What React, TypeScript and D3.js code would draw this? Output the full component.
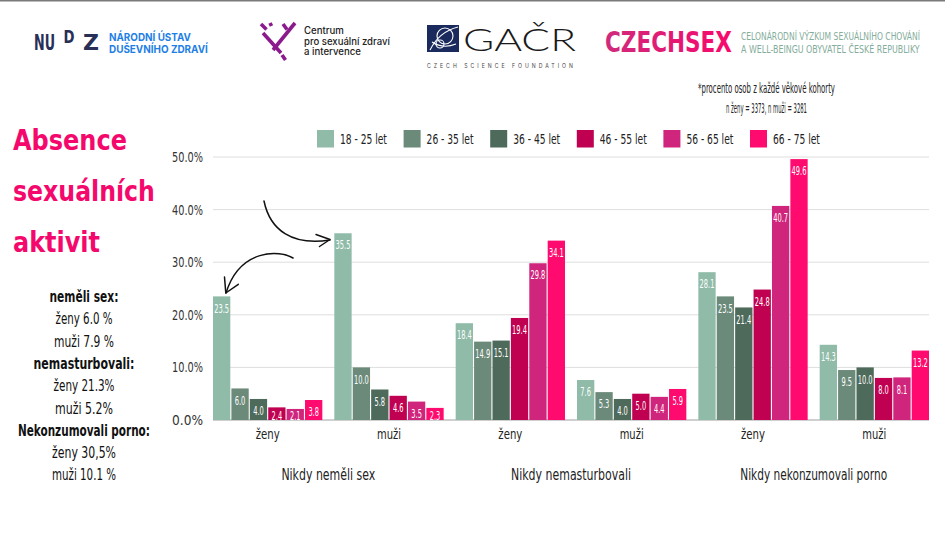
import React, { useLayoutEffect, useRef, useState } from "react";
import * as d3 from "d3";

const categories = ["ženy", "muži", "ženy", "muži", "ženy", "muži"];
const groupLabels = ["Nikdy neměli sex", "Nikdy nemasturbovali", "Nikdy nekonzumovali porno"];
const ageGroups = ["18 - 25 let", "26 - 35 let", "36 - 45 let", "46 - 55 let", "56 - 65 let", "66 - 75 let"];
const age18_25 = [23.5, 35.5, 18.4, 7.6, 28.1, 14.3];
const age26_35 = [6.0, 10.0, 14.9, 5.3, 23.5, 9.5];
const age36_45 = [4.0, 5.8, 15.1, 4.0, 21.4, 10.0];
const age46_55 = [2.4, 4.6, 19.4, 5.0, 24.8, 8.0];
const age56_65 = [2.1, 3.5, 29.8, 4.4, 40.7, 8.1];
const age66_75 = [3.8, 2.3, 34.1, 5.9, 49.6, 13.2];
const seriesValues = [age18_25, age26_35, age36_45, age46_55, age56_65, age66_75];
const colors = ["#8fbba8", "#6b8a7a", "#4e6a5b", "#c00050", "#d0257c", "#ff0a6e"];
const yTicks = [0, 10, 20, 30, 40, 50];

const sideStats = [
  { t: "neměli sex:", b: true, w: 69 },
  { t: "ženy 6.0 %", b: false, w: 57 },
  { t: "muži 7.9 %", b: false, w: 60 },
  { t: "nemasturbovali:", b: true, w: 101 },
  { t: "ženy 21.3%", b: false, w: 61 },
  { t: "muži 5.2%", b: false, w: 58 },
  { t: "Nekonzumovali porno:", b: true, w: 132 },
  { t: "ženy 30,5%", b: false, w: 64 },
  { t: "muži 10.1 %", b: false, w: 64 },
];

const COND = "'Liberation Sans Narrow','Arial Narrow','DejaVu Sans Condensed','Roboto Condensed',sans-serif";
const SANS = "'Inter','Roboto','Open Sans',sans-serif";

type FTProps = {
  x: number; y: number; w: number; anchor?: "start" | "middle" | "end";
  size: number; family?: string; weight?: number; fill?: string; spacing?: number; children: string;
};

function FitText({ x, y, w, anchor = "start", size, family = COND, weight = 400, fill = "#222", spacing, children }: FTProps) {
  const ref = useRef<SVGTextElement>(null);
  const [sx, setSx] = useState(1);
  useLayoutEffect(() => {
    const el = ref.current;
    if (!el) return;
    const n = el.getComputedTextLength();
    if (n > 0) setSx(w / n);
  }, [w, children, size, family, weight]);
  return (
    <text
      ref={ref}
      transform={`translate(${x},${y}) scale(${sx},1)`}
      x={0}
      y={0}
      textAnchor={anchor}
      fontFamily={family}
      fontSize={size}
      fontWeight={weight}
      fill={fill}
      letterSpacing={spacing}
    >
      {children}
    </text>
  );
}

export default function App() {
  const W = 945, H = 533;
  const x0 = d3.scaleBand<number>().domain(d3.range(categories.length)).range([213, 929]).paddingInner(0.099).paddingOuter(0);
  const x1 = d3.scaleBand<number>().domain(d3.range(ageGroups.length)).range([0, x0.bandwidth()]).paddingInner(0.06);
  const y = d3.scaleLinear().domain([0, 50]).range([420, 157]);

  const labelW = (s: string) => s.replace(".", "").length * 4.3 + 2.0;

  return (
    <svg width={W} height={H} viewBox={`0 0 ${W} ${H}`} style={{ position: "absolute", left: 0, top: 0, background: "#fff" }}>
      <defs>
        <linearGradient id="csx" x1="0" x2="1" y1="0" y2="0">
          <stop offset="0" stopColor="#cf2a7c" />
          <stop offset="1" stopColor="#f8086c" />
        </linearGradient>
      </defs>
      <rect x={0} y={0} width={W} height={H} fill="#fff" />
      <rect x={0} y={0} width={W} height={1.5} fill="#7a7a7a" />

      {/* NUDZ logo */}
      <FitText x={34} y={50} w={21} size={20.5} weight={700} fill="#283058">NU</FitText>
      <FitText x={63.5} y={42.5} w={11} size={17.5} weight={700} fill="#283058">D</FitText>
      <FitText x={83} y={50} w={16} size={20.5} weight={700} fill="#283058">Z</FitText>
      <FitText x={109} y={41} w={82} size={11} family={SANS} weight={700} fill="#1f7fe5">NÁRODNÍ ÚSTAV</FitText>
      <FitText x={109} y={53} w={99} size={11} family={SANS} weight={700} fill="#1f7fe5">DUŠEVNÍHO ZDRAVÍ</FitText>

      {/* Centrum logo */}
      <g stroke="#8b1a8c" strokeWidth={3.6} fill="none">
        <line x1={261} y1={24} x2={266.5} y2={29.5} />
        <line x1={270} y1={23} x2={271.5} y2={26} />
        <line x1={283} y1={24} x2={287} y2={29.5} />
        <line x1={295} y1={23} x2={273} y2={50} />
        <line x1={263} y1={33} x2={281} y2={53} />
        <line x1={282} y1={55} x2={285.5} y2={60} />
      </g>
      <FitText x={304} y={34} w={40} size={9.8} family={SANS} weight={500} fill="#222">Centrum</FitText>
      <FitText x={304} y={44.5} w={86} size={9.8} family={SANS} weight={500} fill="#222">pro sexuální zdraví</FitText>
      <FitText x={304} y={55} w={57} size={9.8} family={SANS} weight={500} fill="#222">a intervence</FitText>

      {/* GACR logo */}
      <rect x={427} y={25} width={32} height={27} fill="#1b2a5c" />
      <g stroke="#fff" strokeWidth={1.1} fill="none">
        <circle cx={445} cy={36} r={8} />
        <path d="M430,50 C436,38 446,30 458,27" />
        <path d="M432,42 C438,46 446,48 456,44" />
        <circle cx={440} cy={44} r={4} />
      </g>
      <FitText x={463} y={51} w={113} size={32} family="'Lato','Open Sans',sans-serif" weight={300} fill="#1a1a1a">GAČR</FitText>
      <FitText x={427} y={67.5} w={149} size={5.5} family={SANS} fill="#444" spacing={3.2}>CZECH SCIENCE FOUNDATION</FitText>

      {/* CZECHSEX logo */}
      <FitText x={605} y={52} w={127} size={28} weight={700} fill="url(#csx)">CZECHSEX</FitText>
      <FitText x={741} y={39.5} w={179} size={10} fill="#84ad9b">CELONÁRODNÍ VÝZKUM SEXUÁLNÍHO CHOVÁNÍ</FitText>
      <FitText x={741} y={52.5} w={179} size={10} fill="#84ad9b">A WELL-BEINGU OBYVATEL ČESKÉ REPUBLIKY</FitText>

      {/* footnote */}
      <FitText x={766.5} y={92.5} w={137} size={14.5} anchor="middle" fill="#222">*procento osob z každé věkové kohorty</FitText>
      <FitText x={766.5} y={112.5} w={81} size={14.5} anchor="middle" fill="#222">n ženy = 3373, n muži = 3281</FitText>

      {/* Title */}
      <FitText x={13} y={150} w={114} size={28.5} weight={700} fill="#f5086c">Absence</FitText>
      <FitText x={13} y={201} w={142} size={28.5} weight={700} fill="#f5086c">sexuálních</FitText>
      <FitText x={13} y={252} w={87} size={28.5} weight={700} fill="#f5086c">aktivit</FitText>

      {/* side stats */}
      {sideStats.map((s, i) => (
        <FitText key={i} x={84} y={302 + i * 22.3} w={s.w} size={15} anchor="middle" weight={s.b ? 700 : 400} fill="#111">{s.t}</FitText>
      ))}

      {/* legend */}
      {ageGroups.map((a, i) => (
        <g key={a}>
          <rect x={317 + i * 86.6} y={130} width={17} height={17.5} fill={colors[i]} />
          <FitText x={340 + i * 86.6} y={144} w={47} size={14.5} fill="#222">{a}</FitText>
        </g>
      ))}

      {/* gridlines & y ticks */}
      {yTicks.map((t) => (
        <g key={t}>
          <line x1={213} x2={929} y1={y(t)} y2={y(t)} stroke={t === 0 ? "#a0a0a0" : "#dedede"} strokeWidth={1} />
          <FitText x={203} y={y(t) + 5} w={31} size={14} anchor="end" fill="#333">{`${t.toFixed(1)}%`}</FitText>
        </g>
      ))}

      {/* bars */}
      {categories.map((c, ci) => (
        <g key={ci}>
          {seriesValues.map((vals, si) => {
            const v = vals[ci];
            const bx = x0(ci)! + x1(si)!;
            const by = y(v);
            const s = v.toFixed(1);
            const ly = Math.min(by + 12, 416);
            return (
              <g key={si}>
                <rect x={bx} y={by} width={x1.bandwidth()} height={420 - by} fill={colors[si]} />
                <FitText x={bx + x1.bandwidth() / 2} y={ly + 4.2} w={labelW(s)} size={11.5} anchor="middle" fill="#fff">{s}</FitText>
              </g>
            );
          })}
          <FitText x={x0(ci)! + x0.bandwidth() / 2} y={439} w={24} size={14} anchor="middle" fill="#222">{c}</FitText>
        </g>
      ))}

      {/* group labels */}
      {groupLabels.map((g, gi) => {
        const cx = (x0(gi * 2)! + x0(gi * 2 + 1)! + x0.bandwidth()) / 2;
        const widths = [94, 120, 147];
        return (
          <FitText key={g} x={cx} y={480} w={widths[gi]} size={15} anchor="middle" fill="#222">{g}</FitText>
        );
      })}

      {/* arrows */}
      <g stroke="#111" strokeWidth={1.5} fill="none" strokeLinecap="round" strokeLinejoin="round">
        <path d="M264,201 C270,230 292,246 330,240" />
        <path d="M316,234.5 L330,239.5 L319.5,246.5" />
        <path d="M293,258 C280,250 240,248 226,293" />
        <path d="M224.5,277 L225.8,293 L238.3,284.3" />
      </g>
    </svg>
  );
}
